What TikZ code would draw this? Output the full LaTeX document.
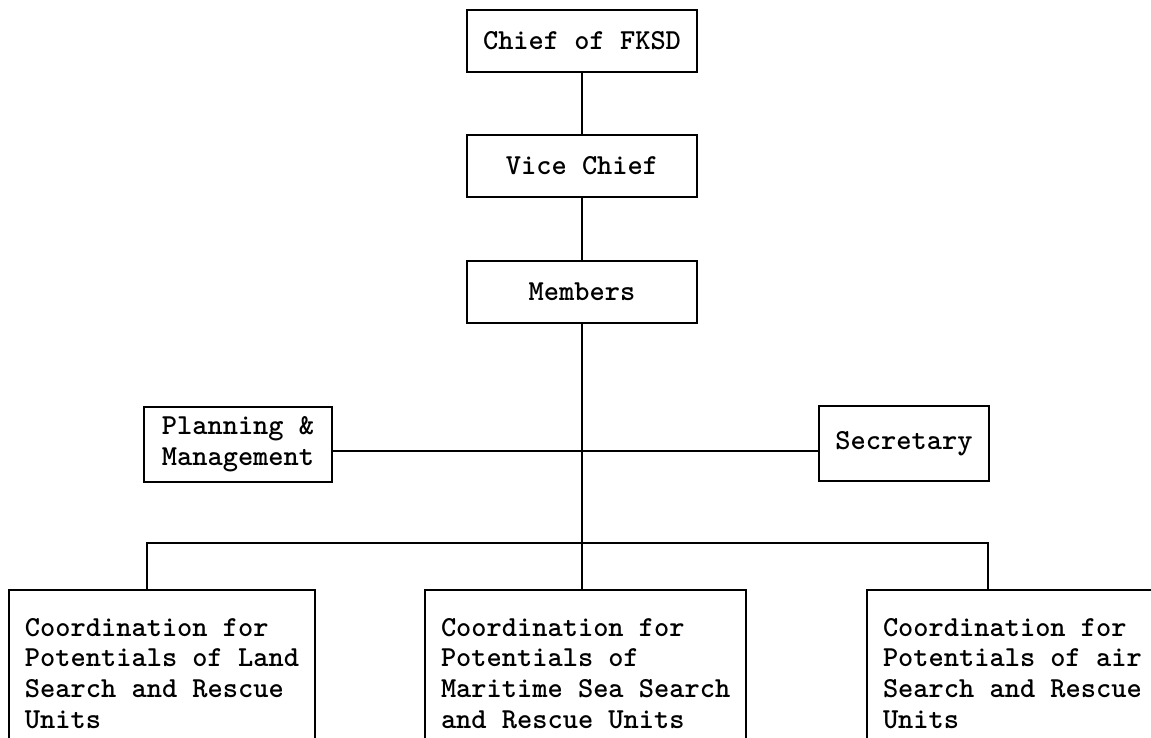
\documentclass[tikz,border=0pt]{standalone}
\usetikzlibrary{positioning}

\begin{document}
\begin{tikzpicture}[x=0.5pt, y=-0.5pt,
					line width=1pt,
					every node/.style={font=\fontsize{14.5}{15.35}\selectfont\ttfamily\bfseries},
					main node/.style={draw, minimum width=115pt, minimum height=31pt},
					side node/.style={draw, align=left, minimum height=37.5pt},
					unit node/.style={draw, align=left, anchor=north west, inner xsep=8pt, inner ysep=14pt}]

  \useasboundingbox (0,0) rectangle (1151,738);
  \clip (0,0) rectangle (1151,738);

  \node[main node] (C) at (582,41) {Chief of FKSD};
  \node[main node] (V) [below=30.5pt of C] {Vice Chief};
  \node[main node] (M) [below=31pt of V] {Members};

  \node[side node, minimum width=94pt] (P) at (238,444.5) {Planning \&\\Management};
  \node[side node, minimum width=85pt] (S) at (904,443.5) {Secretary};

  \node[unit node] (L) at (8,589) {Coordination for\\Potentials of Land\\Search and Rescue\\Units};
  \node[unit node] (Sea) at (424,589) {Coordination for\\Potentials of\\Maritime Sea Search\\and Rescue Units};
  \node[unit node] (Air) at (866,589) {Coordination for\\Potentials of air\\Search and Rescue\\Units};

  \coordinate (mid) at (582,451);
  \coordinate (lt) at (147,543);
  \coordinate (rt) at (988,543);

  \draw (C) -- (V);
  \draw (V) -- (M);
  \draw (M.south) -- (M.south |- Sea.north);
  \draw (P.east |- mid) -- (S.west |- mid);
  \draw (L.north -| lt) -- (lt) -- (rt) -- (Air.north -| rt);
\end{tikzpicture}
\end{document}
